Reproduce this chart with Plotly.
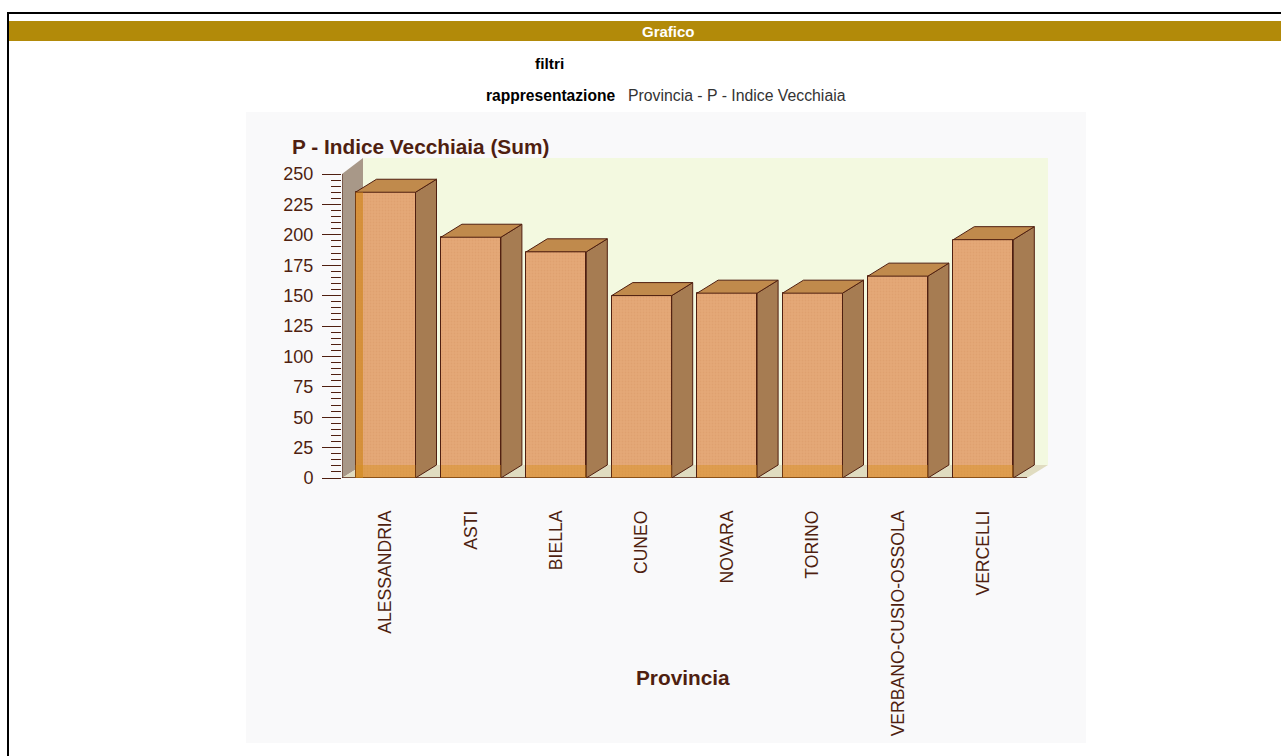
import plotly.graph_objects as go

categories = ["ALESSANDRIA", "ASTI", "BIELLA", "CUNEO", "NOVARA", "TORINO", "VERBANO-CUSIO-OSSOLA", "VERCELLI"]
values = [235, 198, 186, 150, 152, 152, 166, 196]
y_ticks = [0, 25, 50, 75, 100, 125, 150, 175, 200, 225, 250]
y_minor = [v for v in range(0, 255, 5)]

W, H = 1281, 756
H_LAYOUT = 766
AX_L, AX_R, AX_T, AX_B = 342, 1048, 158, 478
X_UNIT = 85.4
X0_PX = 385.5
Y_UNIT = 304 / 250
xr = [(AX_L - X0_PX) / X_UNIT, (AX_R - X0_PX) / X_UNIT]
yr = [0, (AX_B - AX_T) / Y_UNIT]
BW = 60 / X_UNIT
DX = 21 / X_UNIT
DY = 13 / Y_UNIT
BROWN = "#4f1f10"
FONT = "Liberation Sans"
def px(x): return x / W
def py(y): return 1 - y / H

xs = list(range(len(categories)))
fig = go.Figure()
for x, v in zip(xs, values):
    r = x + BW / 2
    l = x - BW / 2
    fig.add_trace(go.Scatter(x=[r, r + DX, r + DX, r, r], y=[0, DY, v + DY, v, 0], mode="lines", fill="toself",
                             fillcolor="#a67c52", line=dict(color=BROWN, width=1), hoverinfo="skip", showlegend=False))
    fig.add_trace(go.Scatter(x=[l, l + DX, r + DX, r, l], y=[v, v + DY, v + DY, v, v], mode="lines", fill="toself",
                             fillcolor="#c08a4c", line=dict(color=BROWN, width=1), hoverinfo="skip", showlegend=False))
fig.add_trace(go.Bar(x=xs, y=values, width=BW,
                     marker=dict(color="#e2a574", line=dict(color=BROWN, width=1),
                                 pattern=dict(shape=".", size=3, solidity=0.35, fgcolor="#d99a66", bgcolor="#e4a878")),
                     showlegend=False, hoverinfo="x+y"))

shapes = [
    dict(type="rect", xref="paper", yref="paper", x0=px(246), x1=px(1086), y0=py(743), y1=py(112),
         fillcolor="#f9f9fa", line_width=0, layer="below"),
    dict(type="rect", xref="paper", yref="paper", x0=px(9), x1=1, y0=py(41), y1=py(21),
         fillcolor="#b28a09", line_width=0, layer="below"),
    dict(type="rect", xref="paper", yref="paper", x0=px(7), x1=1, y0=py(14), y1=py(12),
         fillcolor="#000000", line_width=0, layer="below"),
    dict(type="rect", xref="paper", yref="paper", x0=px(7), x1=px(9), y0=0, y1=py(12),
         fillcolor="#000000", line_width=0, layer="below"),
    dict(type="rect", xref="x", yref="y", x0=xr[0] + DX, x1=xr[1], y0=DY, y1=yr[1],
         fillcolor="#f3f9e0", line_width=0, layer="below"),
    dict(type="path", xref="x", yref="y",
         path=f"M {xr[0]} 0 L {xr[0]+DX} {DY} L {xr[0]+DX} {yr[1]} L {xr[0]} 250 Z",
         fillcolor="#a89888", line_width=0, layer="below"),
    dict(type="path", xref="x", yref="y",
         path=f"M {xr[0]} 0 L {xr[0]+DX} {DY} L {xr[1]} {DY} L {xr[1]-DX} 0 Z",
         fillcolor="#e0dcc0", line_width=0, layer="below"),
    dict(type="line", xref="x", yref="y", x0=xr[0], x1=xr[0], y0=0, y1=250, line=dict(color=BROWN, width=1)),
    dict(type="line", xref="x", yref="y", x0=xr[0], x1=xr[1] - DX, y0=0, y1=0, line=dict(color=BROWN, width=1.5)),
    dict(type="rect", xref="x", yref="y", x0=-BW / 2, x1=xr[0] + DX, y0=0, y1=values[0],
         fillcolor="rgba(205,130,20,0.6)", line_width=0, layer="above"),
]
for x in xs:
    shapes.append(dict(type="rect", xref="x", yref="y", x0=x - BW / 2, x1=x + BW / 2, y0=0, y1=DY,
                       fillcolor="rgba(215,145,30,0.45)", line_width=0, layer="above"))

annotations = [
    dict(text="<b>Grafico</b>", x=px(668), y=py(31), font=dict(size=15, color="#ffffff")),
    dict(text="<b>filtri</b>", x=px(549), y=py(63), font=dict(size=15.5, color="#000000")),
    dict(text="<b>rappresentazione</b>", x=px(617), y=py(95), xanchor="right", font=dict(size=15.6, color="#000000")),
    dict(text="Provincia - P - Indice Vecchiaia", x=px(626), y=py(95), xanchor="left", font=dict(size=15.8, color="#333333")),
    dict(text="<b>P - Indice Vecchiaia (Sum)</b>", x=px(290), y=py(147), xanchor="left", font=dict(size=20.8, color=BROWN)),
    dict(text="<b>Provincia</b>", x=px(683), y=py(677), font=dict(size=20.8, color=BROWN)),
]
for a in annotations:
    a.update(xref="paper", yref="paper", showarrow=False, yanchor="middle")
    a.setdefault("xanchor", "center")

fig.update_layout(
    width=W, height=H_LAYOUT, autosize=False,
    margin=dict(l=0, r=0, t=0, b=0),
    paper_bgcolor="#ffffff", plot_bgcolor="rgba(0,0,0,0)",
    font=dict(family=FONT, color=BROWN),
    shapes=shapes, annotations=annotations, bargap=0, showlegend=False,
    xaxis=dict(domain=[px(AX_L), px(AX_R)], range=xr, tickmode="array", tickvals=xs, ticktext=categories,
               tickangle=-90, showgrid=False, zeroline=False, ticks="", showline=False,
               ticklabelstandoff=28, tickfont=dict(size=17.6, color=BROWN)),
    yaxis=dict(domain=[py(AX_B), py(AX_T)], range=yr, tickmode="array", tickvals=y_ticks, showgrid=False,
               zeroline=False, showline=False, ticks="outside", ticklen=19, tickcolor=BROWN, tickwidth=1,
               tickfont=dict(size=18, color=BROWN), ticklabelstandoff=5,
               minor=dict(tickmode="array", tickvals=y_minor, ticks="outside", ticklen=10, tickcolor=BROWN, tickwidth=1)),
)
fig.write_html("out.html", config=dict(displayModeBar=False),
               post_script="document.body.style.margin='0';document.body.style.overflow='hidden';")
